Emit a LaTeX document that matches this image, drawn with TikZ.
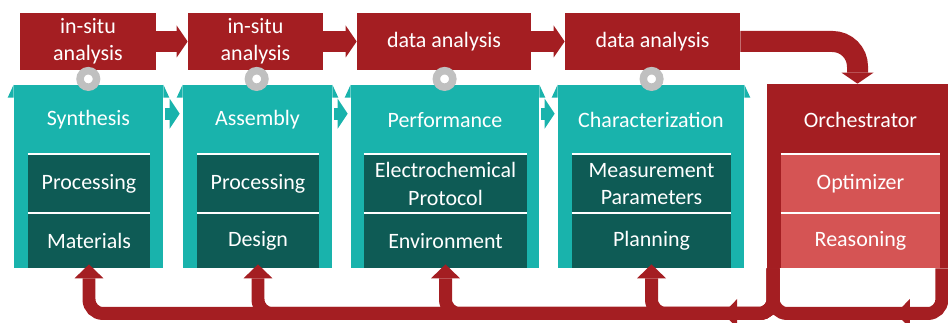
\documentclass[tikz,border=0pt]{standalone}
\usepackage{fontspec}
\setmainfont{Carlito}
\usetikzlibrary{arrows.meta,calc}
\definecolor{anared}{RGB}{164,30,34}
\definecolor{phteal}{RGB}{25,179,172}
\definecolor{rowteal}{RGB}{14,91,85}
\definecolor{orchlight}{RGB}{213,84,84}
\definecolor{ringgray}{RGB}{192,192,192}
\begin{document}
\begin{tikzpicture}[x=0.02cm, y=-0.02cm,
    every node/.style={font=\fontsize{12.5}{15.5}\selectfont, text=white, align=center, inner sep=0pt},
    anabox/.style={fill=anared, minimum height=1.14cm},
    phase/.style={fill=phteal, minimum height=3.66cm},
    row/.style={fill=rowteal},
    orchrow/.style={fill=orchlight},
    ring/.style={circle, draw=ringgray, fill=white, line width=0.15cm, minimum size=0.33cm},
    anaarrow/.style={draw=anared, line width=0.42cm, -{Triangle[length=0.22cm 0 0, width=0.64cm 0 0, line width=0pt]}},
    phasearrow/.style={draw=phteal, line width=0.24cm, -{Triangle[length=0.2cm 0 0, width=0.6cm 0 0, line width=0pt]}},
    fb/.style={draw=anared, line width=0.26cm, rounded corners=0.28cm},
    fbarrow/.style={fb, -{Triangle[length=0.28cm 0 0, width=0.58cm 0 0, line width=0pt]}}]
    \useasboundingbox (0,0) rectangle (948,323) ;

    \node[phase, minimum width=2.98cm] (p1) at (88.5,176.5) {} ;
    \node[phase, minimum width=2.98cm] (p2) at (257.5,176.5) {} ;
    \node[phase, minimum width=3.76cm] (p3) at (445,176.5) {} ;
    \node[phase, minimum width=3.72cm] (p4) at (651,176.5) {} ;
    \foreach \p in {p1,p2,p3,p4} {
        \fill[phteal] (\p.north west) -- ++(-6,13) -- ++(6,0) -- cycle ;
        \fill[phteal] (\p.north east) -- ++(6,13) -- ++(-6,0) -- cycle ;
    }
    \node (t1) at ($(p1.north)+(0,35)$) {Synthesis} ;
    \node (t2) at ($(p2.north)+(0,35)$) {Assembly} ;
    \node (t3) at ($(p3.north)+(0,35)$) {Performance} ;
    \node (t4) at ($(p4.north)+(0,35)$) {Characterization} ;

    \node[row, minimum width=2.44cm, minimum height=1.18cm] (r11) at (89,184) {Processing} ;
    \node[row, minimum width=2.44cm, minimum height=1.09cm] (r12) at (89,240.75) {Materials} ;
    \node[row, minimum width=2.44cm, minimum height=1.18cm] (r21) at (258,184) {Processing} ;
    \node[row, minimum width=2.44cm, minimum height=1.09cm] (r22) at (258,240.75) {Design} ;
    \node[row, minimum width=3.26cm, minimum height=1.18cm] (r31) at (445.5,184) {Electrochemical\\Protocol} ;
    \node[row, minimum width=3.26cm, minimum height=1.09cm] (r32) at (445.5,240.75) {Environment} ;
    \node[row, minimum width=3.18cm, minimum height=1.18cm] (r41) at (651.5,184) {Measurement\\Parameters} ;
    \node[row, minimum width=3.18cm, minimum height=1.09cm] (r42) at (651.5,240.75) {Planning} ;

    \node[fill=anared, minimum width=3.62cm, minimum height=3.68cm] (o) at (857.5,176) {} ;
    \node (ot) at (860.5,120) {Orchestrator} ;
    \node[orchrow, minimum width=3.18cm, minimum height=1.18cm] (o1) at (860.5,184) {Optimizer} ;
    \node[orchrow, minimum width=3.18cm, minimum height=1.09cm] (o2) at (860.5,240.75) {Reasoning} ;

    \foreach \r in {r11,r12,r21,r22,r31,r32,r41,r42,o1,o2}
        \draw[white, line width=0.05cm] (\r.north west) -- (\r.north east) ;

    \node[anabox, minimum width=2.72cm] (a1) at (88,41.5) {in-situ\\analysis} ;
    \node[anabox, minimum width=2.7cm] (a2) at (255.5,41.5) {in-situ\\analysis} ;
    \node[anabox, minimum width=3.48cm] (a3) at (444,41.5) {data analysis} ;
    \node[anabox, minimum width=3.5cm] (a4) at (652.5,41.5) {data analysis} ;

    \node[ring] (g1) at ($(a1.south)!.6!(p1.north)$) {} ;
    \node[ring] (g2) at ($(a2.south)!.6!(p2.north)$) {} ;
    \node[ring] (g3) at ($(a3.south)!.6!(p3.north)$) {} ;
    \node[ring] (g4) at ($(a4.south)!.6!(p4.north)$) {} ;

    \draw[anaarrow] (a1.east) -- (a2.west) ;
    \draw[anaarrow] (a2.east) -- (a3.west) ;
    \draw[anaarrow] (a3.east) -- (a4.west) ;
    \draw[anaarrow, rounded corners=0.5cm] (a4.east) -| (o.north) ;

    \draw[phasearrow] ($(p1.north east)+(2,29)$) -- ($(p2.north west)+(-3,29)$) ;
    \draw[phasearrow] ($(p2.north east)+(2,29)$) -- ($(p3.north west)+(-3,29)$) ;
    \draw[phasearrow] ($(p3.north east)+(2,29)$) -- ($(p4.north west)+(-3,29)$) ;

    \coordinate (bar) at (0,313.5) ;
    \coordinate (ol) at ($(o.south west)+(6.5,0)$) ;
    \coordinate (or) at ($(o.south east)+(-6.5,0)$) ;
    \draw[fb] (or) |- (ol |- bar) -- (ol) ;
    \foreach \r in {r12,r22,r32,r42}
        \draw[fbarrow] (ol) -- (ol |- bar) -| ($(\r.south)+(0,-4)$) ;
    \draw[fbarrow] ($(ol |- bar)+(-20,0)$) -- ($(ol |- bar)+(-50,0)$) ;
    \draw[fbarrow] ($(or |- bar)+(-20,0)$) -- ($(or |- bar)+(-46,0)$) ;
\end{tikzpicture}
\end{document}
